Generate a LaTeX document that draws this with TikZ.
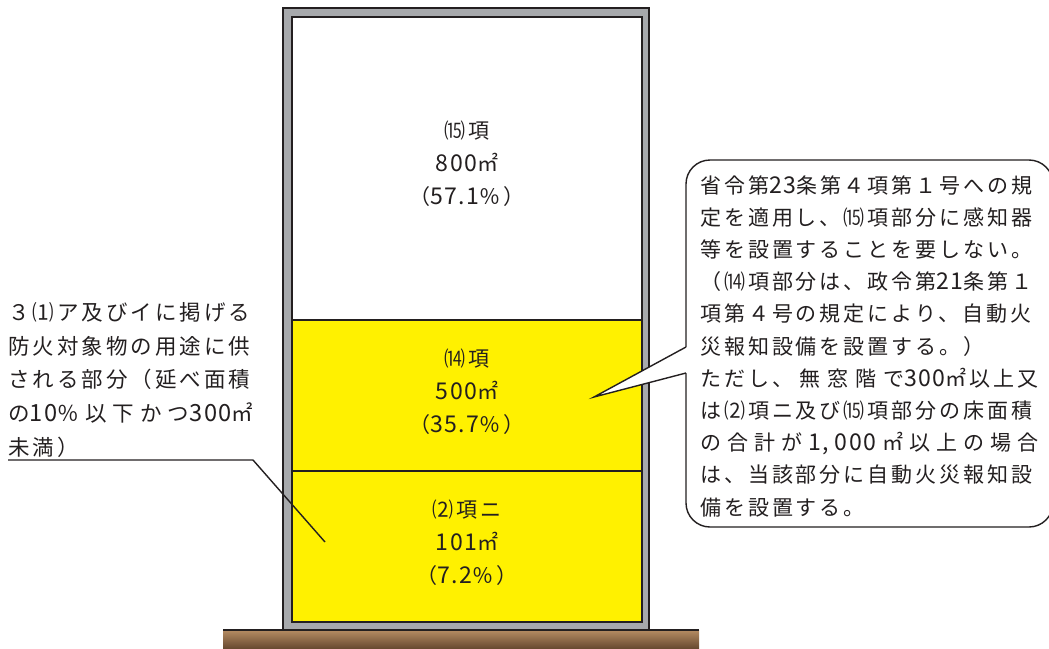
\documentclass[tikz,border=0pt]{standalone}
\usepackage{fontspec}
\newfontfamily\jp[LetterSpace=14]{Noto Sans CJK JP}
\newfontfamily\jpdg[Scale=1.1,LetterSpace=6]{Noto Sans CJK JP}
\newcommand\dg[1]{{\jpdg #1}}
\definecolor{ink}{HTML}{231F20}
\definecolor{wall}{HTML}{A7A9AC}
\definecolor{yel}{HTML}{FFF100}
\definecolor{groundtop}{HTML}{B58C63}
\definecolor{groundbot}{HTML}{583C26}
\tikzset{
  wallline/.style={draw=ink, line width=1.5pt},
  lbl/.style={font=\jp\fontsize{21}{33}\selectfont, text=ink, inner sep=0pt, align=center},
  note/.style={font=\jp\fontsize{21}{32.2}\selectfont, text=ink, inner sep=0pt, align=left},
  leader/.style={draw=ink, line width=1.4pt},
}
\begin{document}
\begin{tikzpicture}[x=1pt,y=-1pt]
\useasboundingbox (0,0) rectangle (1049,648);
% ground
\shade[top color=groundtop, bottom color=groundbot] (223,630) rectangle (699,652);
\draw[wallline] (223,630) -- (699,630);
% building
\draw[wallline, fill=wall] (283,8) rectangle (649,630);
\draw[wallline, fill=white] (292,17) rectangle (642,622);
\draw[wallline, fill=yel] (292,320) rectangle (642,622);
\draw[wallline] (292,471) -- (642,471);
% floor labels
\node[lbl] (f15) at (467,164) {⒂項\\\dg{800}㎡\\（\dg{57.1}％）};
\node[lbl] (f14) at (467,392) {⒁項\\\dg{500}㎡\\（\dg{35.7}％）};
\node[lbl] (f2) at (467,543) {⑵項ニ\\\dg{101}㎡\\（\dg{7.2}％）};
% left note and leader
\node[note, anchor=west, font=\jp\fontsize{21.5}{33.8}\selectfont] (lnote) at (8,380)
  {３⑴ア及びイに掲げる\\防火対象物の用途に供\\される部分（延べ面積\\
   \hbox to 245pt{の\dg{10}％\hfill 以\hfill 下\hfill か\hfill つ\dg{300}㎡}\\未満）};
\coordinate (lstart) at (8,460);
\coordinate (lbend) at (253,460);
\coordinate (ltip) at (325,542);
\draw[leader] (lstart) -- (lbend) -- (ltip);
% callout
\coordinate (ctl) at (686,160);
\coordinate (cbr) at (1053,527);
\coordinate (pa) at (686,347);
\coordinate (pb) at (686,373);
\coordinate (ptip) at (594,397);
\draw[draw=ink, line width=1.4pt, fill=white, rounded corners=24pt] (ctl) rectangle (cbr);
\fill[white] (689,347) -- (pa) -- (ptip) -- (pb) -- (689,373) -- cycle;
\draw[leader, line join=miter] (pa) -- (ptip) -- (pb);
\node[note, anchor=west] (cnote) at (700,346)
  {省令第\dg{23}条第４項第１号への規\\
   定を適用し、⒂項部分に感知器\\
   等を設置することを要しない。\\
   （⒁項部分は、政令第\dg{21}条第１\\
   項第４号の規定により、自動火\\
   災報知設備を設置する。）\\
   \hbox to 338pt{ただし、\hfill 無\hfill 窓\hfill 階\hfill で\dg{300}㎡以上又}\\
   は⑵項ニ及び⒂項部分の床面積\\
   \hbox to 338pt{の\hfill 合\hfill 計\hfill が\hfill \dg{1,}\hfill \dg{000}\hfill ㎡\hfill 以\hfill 上\hfill の\hfill 場\hfill 合}\\
   は、当該部分に自動火災報知設\\
   備を設置する。};
\end{tikzpicture}
\end{document}
